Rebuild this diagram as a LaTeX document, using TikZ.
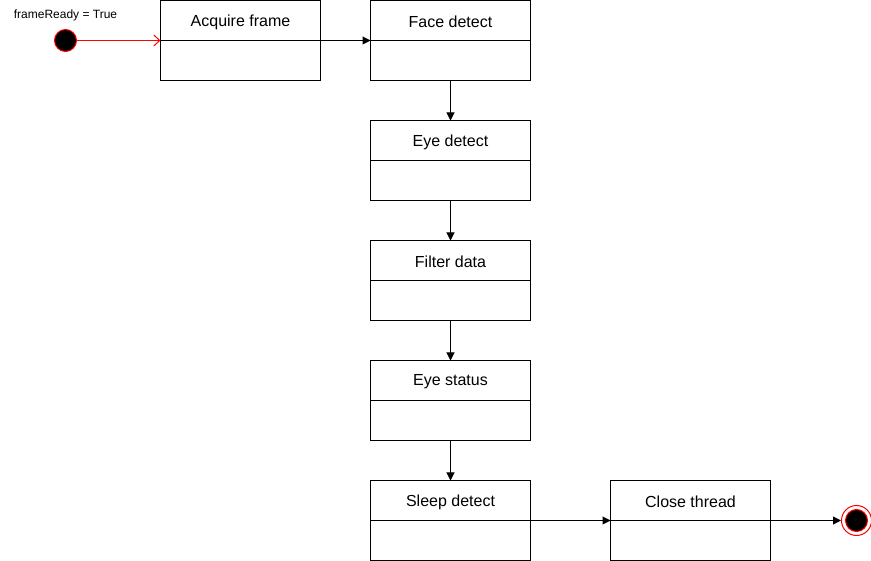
\documentclass[tikz,border=0pt]{standalone}
\usepackage{fontspec}
\setmainfont{Liberation Sans}
\usetikzlibrary{arrows.meta}
\begin{document}
\begin{tikzpicture}[x=1pt,y=-1pt,
  statebox/.style={draw=black,line width=1pt,minimum width=160pt,minimum height=80pt,inner sep=0pt,outer sep=0pt},
  lbl/.style={font=\fontsize{16}{18}\selectfont,inner sep=0pt},
  flow/.style={draw=black,line width=1pt,-{Triangle[length=8pt,width=8pt]}},
  startarr/.style={draw=red,line width=1pt,-{Straight Barb[length=6pt,width=11pt,line width=1pt]}}]
\useasboundingbox (-0.5,-0.5) rectangle (870.5,560.5);
\node[statebox] (acq) at (240,40) {};
\draw[line width=1pt] (acq.west) -- (acq.east);
\node[lbl] (acqt) at (240,21.5) {Acquire frame};
\node[statebox] (face) at (450,40) {};
\draw[line width=1pt] (face.west) -- (face.east);
\node[lbl] (facet) at (450,21.5) {Face detect};
\node[statebox] (eye) at (450,160) {};
\draw[line width=1pt] (eye.west) -- (eye.east);
\node[lbl] (eyet) at (450,141.5) {Eye detect};
\node[statebox] (filt) at (450,280) {};
\draw[line width=1pt] (filt.west) -- (filt.east);
\node[lbl] (filtt) at (450,261.5) {Filter data};
\node[statebox] (stat) at (450,400) {};
\draw[line width=1pt] (stat.west) -- (stat.east);
\node[lbl] (statt) at (450,381.5) {Eye status};
\node[statebox] (sleep) at (450,520) {};
\draw[line width=1pt] (sleep.west) -- (sleep.east);
\node[lbl] (sleept) at (450,501.5) {Sleep detect};
\node[statebox] (close) at (690,520) {};
\draw[line width=1pt] (close.west) -- (close.east);
\node[lbl] (closet) at (690,501.5) {Close thread};
% start
\node[circle,draw=red,fill=black,line width=1pt,minimum size=22pt,inner sep=0pt] (start) at (65,40) {};
\node[font=\fontsize{12}{14}\selectfont,inner sep=0pt] (startl) at (65,15) {frameReady = True};
% end
\node[circle,draw=red,line width=1pt,minimum size=30pt,inner sep=0pt,fill=white] (endo) at (856,520) {};
\node[circle,draw=red,fill=black,line width=1pt,minimum size=22pt,inner sep=0pt] (endi) at (856,520) {};
% connectors
\draw[startarr] (start.east) -- (acq.west);
\draw[flow] (acq.east) -- (face.west);
\draw[flow] (face.south) -- (eye.north);
\draw[flow] (eye.south) -- (filt.north);
\draw[flow] (filt.south) -- (stat.north);
\draw[flow] (stat.south) -- (sleep.north);
\draw[flow] (sleep.east) -- (close.west);
\draw[flow] (close.east) -- (endo.west);
\end{tikzpicture}
\end{document}
